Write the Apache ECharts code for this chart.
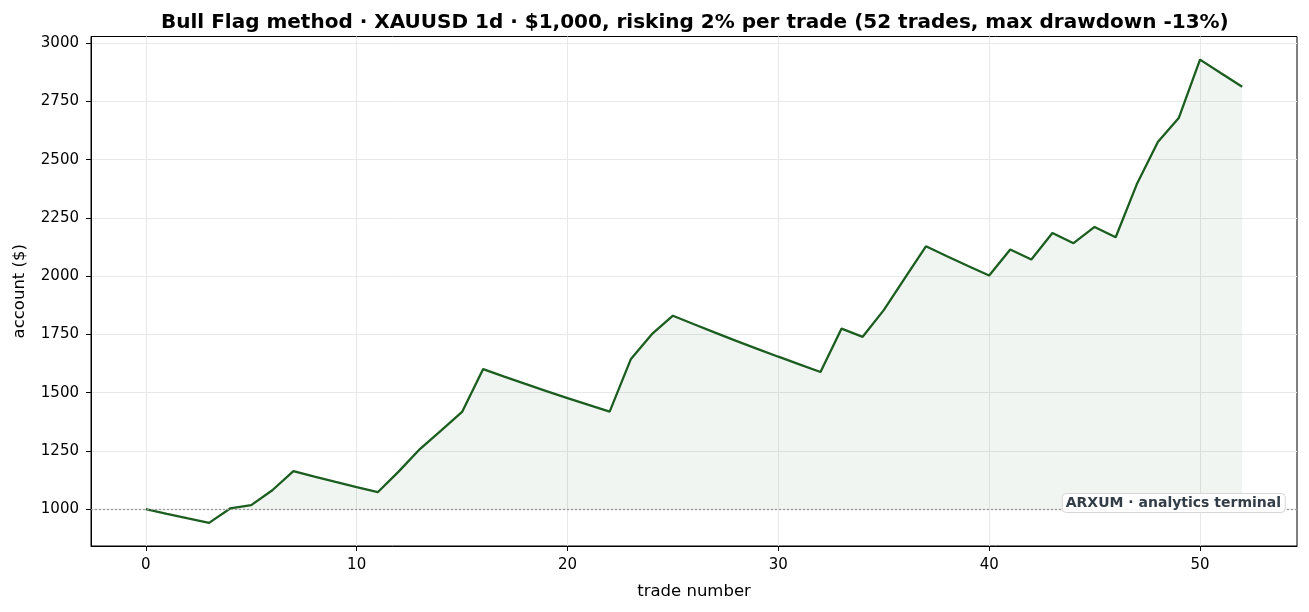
<!DOCTYPE html>
<html>
<head>
<meta charset="utf-8">
<script src="https://cdn.jsdelivr.net/npm/echarts@6/dist/echarts.min.js"></script>
<style>
html,body{margin:0;padding:0;background:#fff;}
#chart{width:1309px;height:612px;}
</style>
</head>
<body>
<div id="chart"></div>
<script>
const tradeNumbers = [0,1,2,3,4,5,6,7,8,9,10,11,12,13,14,15,16,17,18,19,20,21,22,23,24,25,26,27,28,29,30,31,32,33,34,35,36,37,38,39,40,41,42,43,44,45,46,47,48,49,50,51,52];
const account = [1000,980,960.4,941.2,1003,1017,1081,1163,1139.7,1117,1094.6,1072.7,1162,1258,1337,1417,1601,1569,1537.6,1506.8,1476.7,1447.2,1418.2,1643,1751,1830,1793.4,1757.5,1722.4,1687.9,1654.2,1621.1,1588.7,1775,1739.5,1854,1991,2128,2085.4,2043.7,2002.9,2114,2071.7,2185,2141.3,2211,2166.8,2394,2576,2680,2929,2870.4,2813];
const xTicks = [0,10,20,30,40,50];
const yTicks = [1000,1250,1500,1750,2000,2250,2500,2750,3000];
const startBalance = 1000;
const titleText = 'Bull Flag method · XAUUSD 1d · $1,000, risking 2% per trade (52 trades, max drawdown -13%)';
const watermark = 'ARXUM · analytics terminal';

const lineData = tradeNumbers.map((x, i) => [x, account[i]]);
const fillData = tradeNumbers.map((x, i) => [x, Math.max(account[i], startBalance)]);

const xMin = tradeNumbers[0] - 0.05 * (tradeNumbers[tradeNumbers.length-1] - tradeNumbers[0]);
const xMax = tradeNumbers[tradeNumbers.length-1] + 0.05 * (tradeNumbers[tradeNumbers.length-1] - tradeNumbers[0]);
const aMin = Math.min(...account), aMax = Math.max(...account);
const yMin = aMin - 0.05 * (aMax - aMin);
const yMax = aMax + 0.05 * (aMax - aMin);

const FONT = 'DejaVu Sans';
const chart = echarts.init(document.getElementById('chart'), null, {renderer: 'canvas'});
chart.setOption({
  animation: false,
  backgroundColor: '#fff',
  title: [{
    text: titleText,
    left: 156,
    top: 8,
    textStyle: {fontFamily: FONT, fontSize: 20, fontWeight: 'bold', color: '#000'}
  }, {
    text: watermark,
    right: 24,
    top: 493,
    padding: [3, 4, 3, 4],
    backgroundColor: 'rgba(255,255,255,0.9)',
    borderColor: '#d6d6d6',
    borderWidth: 1,
    borderRadius: 4,
    textStyle: {fontFamily: FONT, fontSize: 14, fontWeight: 'bold', color: '#333d47'}
  }],
  grid: {
    left: 91, right: 12, top: 36.5, bottom: 66,
    show: true, borderColor: '#000', borderWidth: 1, backgroundColor: 'transparent'
  },
  xAxis: {
    type: 'value',
    min: xMin, max: xMax,
    name: 'trade number',
    nameLocation: 'middle',
    nameGap: 37,
    nameTextStyle: {fontFamily: FONT, fontSize: 16.5, color: '#000'},
    axisLine: {show: true, onZero: false, lineStyle: {color: '#000', width: 1}},
    axisTick: {show: true, length: 5, customValues: xTicks, lineStyle: {color: '#000'}},
    axisLabel: {customValues: xTicks, formatter: v => String(v), fontFamily: FONT, fontSize: 15, color: '#000', margin: 12},
    splitLine: {show: true, lineStyle: {color: '#e8e8e8', width: 1}}
  },
  yAxis: {
    type: 'value',
    min: yMin, max: yMax,
    name: 'account ($)',
    nameLocation: 'middle',
    nameGap: 63,
    nameTextStyle: {fontFamily: FONT, fontSize: 16.5, color: '#000'},
    axisLine: {show: true, onZero: false, lineStyle: {color: '#000', width: 1}},
    axisTick: {show: true, length: 5, customValues: yTicks, lineStyle: {color: '#000'}},
    axisLabel: {customValues: yTicks, formatter: v => String(v), fontFamily: FONT, fontSize: 15, color: '#000', margin: 12},
    splitLine: {show: true, lineStyle: {color: '#e8e8e8', width: 1}}
  },
  series: [{
    type: 'line',
    data: fillData,
    symbol: 'none',
    silent: true,
    lineStyle: {width: 0, opacity: 0},
    areaStyle: {origin: startBalance, color: 'rgba(27,94,32,0.09)'},
    z: 1,
    markLine: {
      silent: true,
      symbol: 'none',
      label: {show: false},
      lineStyle: {type: [2, 2], color: '#999', width: 1.3},
      data: [{yAxis: startBalance}]
    }
  }, {
    type: 'line',
    data: lineData,
    symbol: 'none',
    lineStyle: {color: '#1b5e20', width: 2.3},
    z: 3
  }]
});
</script>
</body>
</html>
